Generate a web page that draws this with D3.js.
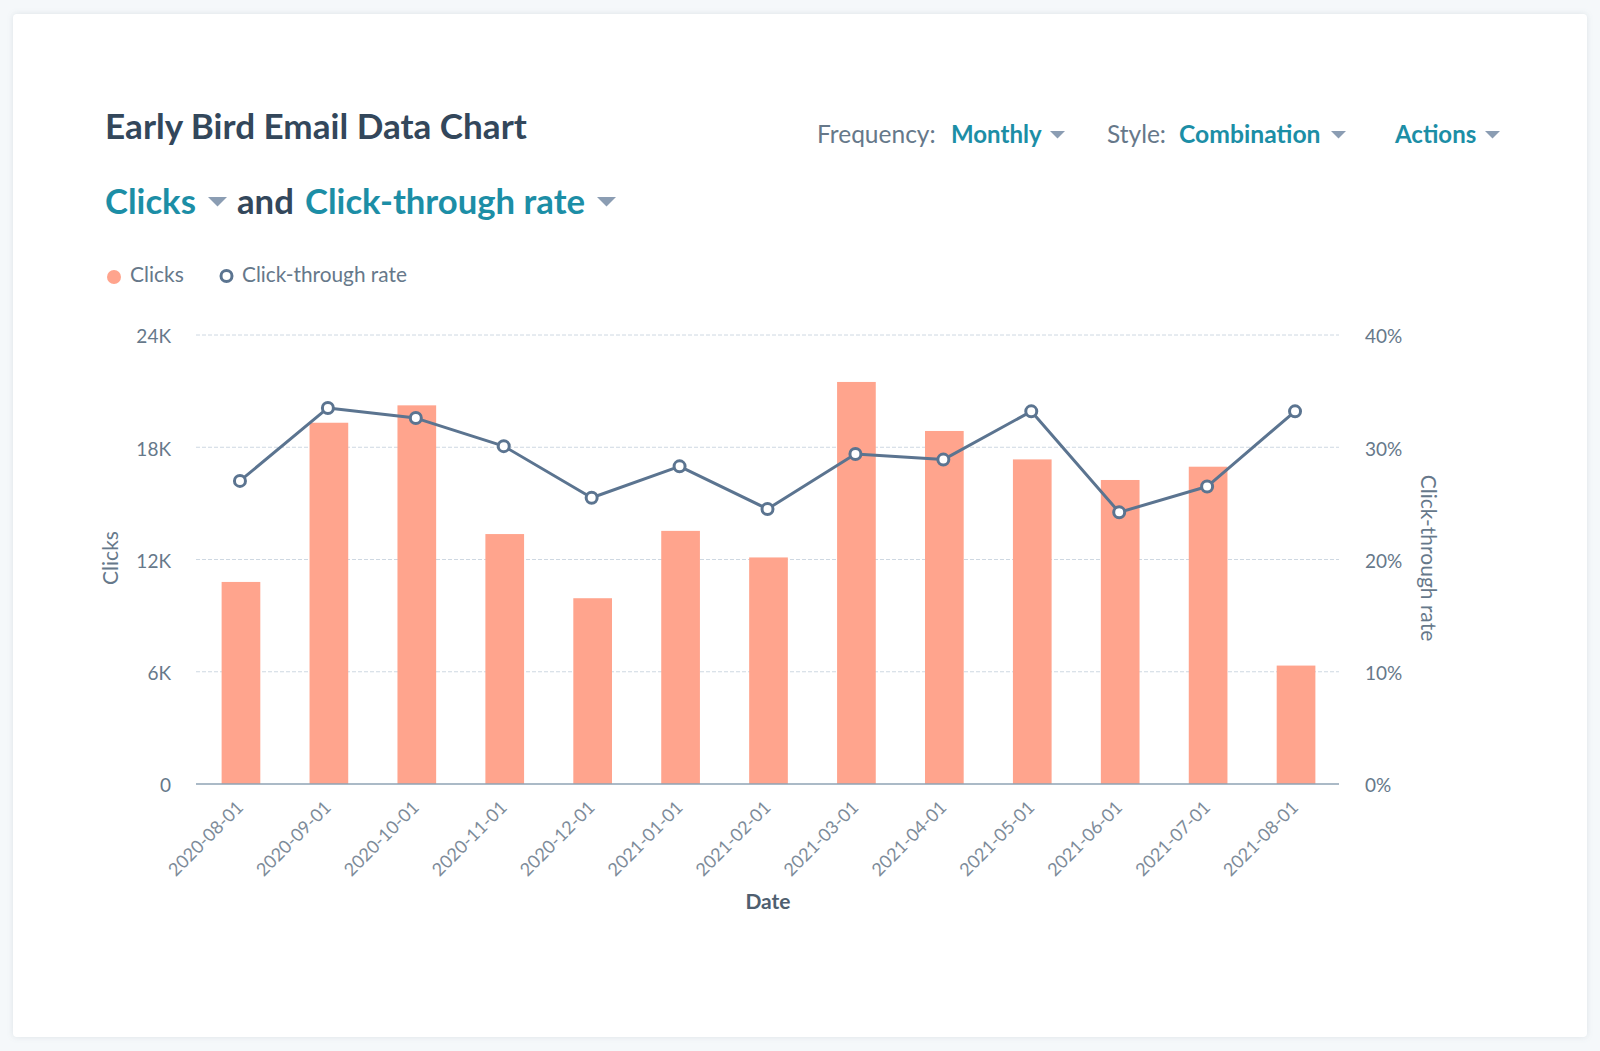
<!DOCTYPE html>
<html>
<head>
<meta charset="utf-8">
<script src="https://cdn.jsdelivr.net/npm/d3@7"></script>
<style>
  html, body { margin: 0; padding: 0; background: #f5f8fa; }
  svg { display: block; }
  text { font-family: Lato, 'Open Sans', sans-serif; }
  .axis text { font-size: 19px; fill: #66788a; }
  .axis .domain { display: none; }
  .axis line { display: none; }
  .axis.dates text { font-size: 18px; fill: #7d8b99; }
</style>
</head>
<body>
<div id="chart"></div>
<script>
// Values
let dates = ['2020-08-01', '2020-09-01', '2020-10-01', '2020-11-01', '2020-12-01', '2021-01-01', '2021-02-01',
    '2021-03-01', '2021-04-01', '2021-05-01', '2021-06-01', '2021-07-01', '2021-08-01']
let clicks = [10800, 19310, 20240, 13360, 9930, 13530, 12110, 21490, 18870, 17350, 16250, 16960, 6330]
let clickRate = [27.0, 33.5, 32.6, 30.1, 25.5, 28.3, 24.5, 29.4, 28.9, 33.2, 24.2, 26.5, 33.2]
let clickTicks = [0, 6000, 12000, 18000, 24000]
let rateTicks = [0, 10, 20, 30, 40]

let svgWidth = 1600
let svgHeight = 1051

let margin = { top: 335, right: 261, bottom: 267, left: 196 }
let chartWidth = svgWidth - margin.left - margin.right
let chartHeight = svgHeight - margin.top - margin.bottom

let teal = '#1c8ea6', dark = '#33475b', grey = '#66788a', arrow = '#8b9db3'
let barColor = '#ffa48d', lineColor = '#5b7490'

let svg = d3.select('#chart')
    .append('svg')
    .attr('width', svgWidth)
    .attr('height', svgHeight)

// card
svg.append('rect')
    .attr('x', 13)
    .attr('y', 14)
    .attr('width', 1574)
    .attr('height', 1023)
    .attr('rx', 4)
    .attr('fill', '#fff')
    .style('filter', 'drop-shadow(0 0 3px rgba(60, 80, 100, 0.12))')

let chartGroup = svg.append('g')
    .attr('transform', `translate(${margin.left}, ${margin.top})`)

let xScale = d3.scaleBand()
    .domain(dates)
    .range([0, chartWidth])
    .paddingInner(0.56)
    .paddingOuter(0.28)

let yClicks = d3.scaleLinear().domain([0, 24000]).range([chartHeight, 0])
let yRate = d3.scaleLinear().domain([0, 40]).range([chartHeight, 0])

// grid
chartGroup.selectAll('.grid')
    .data(clickTicks.slice(1))
    .enter()
    .append('line')
    .classed('grid', true)
    .attr('x1', 0)
    .attr('x2', chartWidth)
    .attr('y1', d => yClicks(d))
    .attr('y2', d => yClicks(d))
    .attr('stroke', '#ced8e2')
    .attr('stroke-width', 1)
    .attr('stroke-dasharray', '4 2')

// bars, they sit about a pixel right of the line points
chartGroup.selectAll('.bar')
    .data(clicks)
    .enter()
    .append('rect')
    .classed('bar', true)
    .attr('x', (d, i) => xScale(dates[i]) + 1)
    .attr('y', d => yClicks(d))
    .attr('width', xScale.bandwidth())
    .attr('height', d => chartHeight - yClicks(d))
    .attr('fill', barColor)

// baseline
chartGroup.append('line')
    .attr('x1', 0)
    .attr('x2', chartWidth)
    .attr('y1', chartHeight)
    .attr('y2', chartHeight)
    .attr('stroke', '#8fa3b5')
    .attr('stroke-width', 1.5)

// axes
let leftAxis = d3.axisLeft(yClicks)
    .tickValues(clickTicks)
    .tickFormat(d => d === 0 ? '0' : `${d / 1000}K`)
    .tickSize(0)
    .tickPadding(25)

let rightAxis = d3.axisRight(yRate)
    .tickValues(rateTicks)
    .tickFormat(d => `${d}%`)
    .tickSize(0)
    .tickPadding(26)

let bottomAxis = d3.axisBottom(xScale)
    .tickSize(0)
    .tickPadding(14)

chartGroup.append('g')
    .classed('axis', true)
    .call(leftAxis)
    .selectAll('text')
    .attr('dy', '0.62em')
    .attr('y', -4)

chartGroup.append('g')
    .classed('axis', true)
    .attr('transform', `translate(${chartWidth}, 0)`)
    .call(rightAxis)
    .selectAll('text')
    .attr('dy', '0.62em')
    .attr('y', -4)

chartGroup.append('g')
    .classed('axis dates', true)
    .attr('transform', `translate(0, ${chartHeight})`)
    .call(bottomAxis)
    .selectAll('text')
    .attr('text-anchor', 'end')
    .attr('dy', '0.7em')
    .attr('transform', 'rotate(-45) translate(-14.4, -6.1)')

// line
let rateLine = d3.line()
    .x((d, i) => xScale(dates[i]) + xScale.bandwidth() / 2)
    .y(d => yRate(d))

chartGroup.append('path')
    .datum(clickRate)
    .attr('d', rateLine)
    .attr('fill', 'none')
    .attr('stroke', lineColor)
    .attr('stroke-width', 3)
    .attr('stroke-linejoin', 'round')

chartGroup.selectAll('.point')
    .data(clickRate)
    .enter()
    .append('circle')
    .classed('point', true)
    .attr('cx', (d, i) => xScale(dates[i]) + xScale.bandwidth() / 2)
    .attr('cy', d => yRate(d))
    .attr('r', 5.5)
    .attr('fill', '#fff')
    .attr('stroke', lineColor)
    .attr('stroke-width', 3)

// axis titles
svg.append('text')
    .attr('transform', 'translate(118, 558) rotate(-90)')
    .attr('text-anchor', 'middle')
    .attr('font-size', 21)
    .attr('fill', grey)
    .text('Clicks')

svg.append('text')
    .attr('transform', 'translate(1421, 558) rotate(90)')
    .attr('text-anchor', 'middle')
    .attr('font-size', 21)
    .attr('fill', grey)
    .text('Click-through rate')

svg.append('text')
    .attr('x', 768)
    .attr('y', 909)
    .attr('text-anchor', 'middle')
    .attr('font-size', 21)
    .attr('font-weight', 700)
    .attr('fill', '#4f5f70')
    .text('Date')

// header
const addText = (x, y, size, color, label, weight) => svg.append('text')
    .attr('x', x)
    .attr('y', y)
    .attr('font-size', size)
    .attr('font-weight', weight || 400)
    .attr('fill', color)
    .text(label)

const addArrow = (x, y, w) => svg.append('path')
    .attr('d', `M${x},${y}L${x + w},${y}L${x + w / 2},${y + w * 0.5}Z`)
    .attr('fill', arrow)

addText(105, 139, 35.1, dark, 'Early Bird Email Data Chart', 700)

addText(105, 214, 34.7, teal, 'Clicks', 700)
addArrow(208, 197, 19)
addText(237, 214, 34.7, dark, 'and', 700)
addText(305, 214, 34.7, teal, 'Click-through rate', 700)
addArrow(597, 197, 19)

addText(817, 143, 24.5, grey, 'Frequency:')
addText(951, 143, 24, teal, 'Monthly', 700)
addArrow(1050, 131, 15)
addText(1107, 143, 24.5, grey, 'Style:')
addText(1179, 143, 24.7, teal, 'Combination', 700)
addArrow(1331, 131, 15)
addText(1395, 143, 24, teal, 'Actions', 700)
addArrow(1485, 131, 15)

// legend
svg.append('circle')
    .attr('cx', 114)
    .attr('cy', 277)
    .attr('r', 7)
    .attr('fill', barColor)
addText(130, 282, 21, grey, 'Clicks')

svg.append('circle')
    .attr('cx', 226.5)
    .attr('cy', 276)
    .attr('r', 5.5)
    .attr('fill', '#fff')
    .attr('stroke', lineColor)
    .attr('stroke-width', 3)
addText(242, 282, 20.8, grey, 'Click-through rate')
</script>
</body>
</html>
